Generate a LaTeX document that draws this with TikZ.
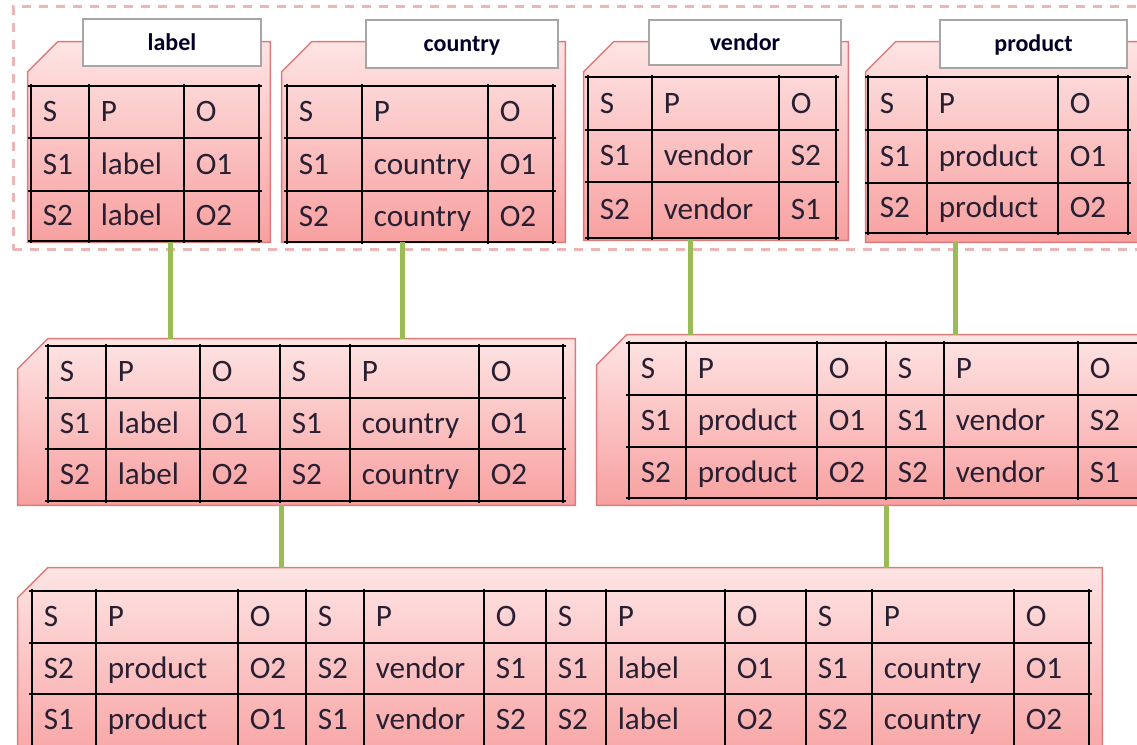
\documentclass[tikz,border=0pt]{standalone}
\usepackage{fontspec}
\setmainfont{Carlito}
\usetikzlibrary{fit}

\definecolor{boxTop}{RGB}{254,228,228}
\definecolor{boxBot}{RGB}{248,160,160}
\definecolor{boxLine}{RGB}{222,122,122}
\definecolor{frameLine}{RGB}{236,182,182}
\definecolor{tabLine}{RGB}{166,166,166}
\definecolor{linkGreen}{RGB}{155,187,89}
\definecolor{cellInk}{RGB}{40,32,50}

% box with a cut top-left corner
\newcommand\chambox[3]{%
  \node[fit={#2 #3}, inner sep=0pt] (#1) {};
  \path[tbox] ([yshift=-18pt]#1.north west) -- ([xshift=18pt]#1.north west)
  -- (#1.north east) -- (#1.south east) -- (#1.south west) -- cycle;
}

% grid of cells: name, column lines, row lines, texts
\newcommand\triptable[4]{%
  \pgfmathtruncatemacro\nCol{dim({#2})-1}
  \pgfmathtruncatemacro\nRow{dim({#3})-1}
  \pgfmathsetmacro\xA{{#2}[0]}
  \pgfmathsetmacro\xB{{#2}[\nCol]}
  \pgfmathsetmacro\yA{{#3}[0]}
  \pgfmathsetmacro\yB{{#3}[\nRow]}
  \foreach \x in {#2}{
    \draw[gridrule] (\x, \yA - 2) -- (\x, \yB + 2);
  }
  \foreach \y in {#3}{
    \draw[gridrule] (\xA - 3, \y) -- (\xB + 3, \y);
  }
  \foreach \t [count = \k from 0] in {#4}{
    \pgfmathtruncatemacro\tRow{div(\k, \nCol)}
    \pgfmathtruncatemacro\tCol{mod(\k, \nCol)}
    \pgfmathtruncatemacro\tRowB{\tRow + 1}
    \pgfmathsetmacro\cx{{#2}[\tCol]}
    \pgfmathsetmacro\yU{{#3}[\tRow]}
    \pgfmathsetmacro\yL{{#3}[\tRowB]}
    \pgfmathsetmacro\cy{(\yU + \yL)/2}
    \node[cellText] (#1-\tRow-\tCol) at (\cx, \cy) {\t};
  }
}

\begin{document}
\begin{tikzpicture}[x = 0.6pt, y = -0.6pt,
  tbox/.style = {draw = boxLine, line width = 0.9pt,
    top color = boxTop, bottom color = boxBot},
  tabbox/.style = {draw = tabLine, fill = white, line width = 1.1pt,
    inner sep = 0pt},
  tabText/.style = {inner sep = 0pt, text height = 9.2pt, text depth = 0pt,
    font = \fontsize{14.4}{16}\selectfont\bfseries, text = black!85!blue},
  gridrule/.style = {black, line width = 1.2pt},
  cellText/.style = {anchor = west, inner sep = 0pt, xshift = 6.9pt,
    text height = 12pt, text depth = 0pt, text = cellInk,
    font = \fontsize{18.7}{21}\selectfont},
  link/.style = {draw = linkGreen, line width = 3pt},
  frame/.style = {draw = frameLine, line width = 1.8pt,
    dash pattern = on 5.4pt off 4.8pt}
  ]
  \useasboundingbox (0, 0) rectangle (1137, 745);
  \clip (0, 0) rectangle (1137, 745);

  \node[frame, fit = {(13, 7) (1150, 250)}, inner sep = 0pt] (group) {};

  % single-pattern tables
  \chambox{tLabel}{(28, 42)}{(270, 242)}
  \chambox{tCountry}{(282, 42)}{(565, 242)}
  \chambox{tVendor}{(584, 42)}{(848, 240)}
  \chambox{tProduct}{(866, 42)}{(1140, 242)}

  \node[tabbox, fit = {(83, 19) (261, 66)}] (hLabel) {};
  \node[tabbox, fit = {(366, 20) (558, 68)}] (hCountry) {};
  \node[tabbox, fit = {(649, 20) (841, 65)}] (hVendor) {};
  \node[tabbox, fit = {(940, 20) (1127, 68)}] (hProduct) {};
  \node[tabText] (nLabel) at (hLabel) {label};
  \node[tabText] (nCountry) at (hCountry) {country};
  \node[tabText] (nVendor) at (hVendor) {vendor};
  \node[tabText] (nProduct) at (hProduct) {product};

  \triptable{gLabel}{31,89,184,259}{86,138,191,241}
  {S, P, O, S1, label, O1, S2, label, O2}
  \triptable{gCountry}{287,362,488,553}{86,138,191,242}
  {S, P, O, S1, country, O1, S2, country, O2}
  \triptable{gVendor}{588,652,779,836}{77,130,182,238}
  {S, P, O, S1, vendor, S2, S2, vendor, S1}
  \triptable{gProduct}{868,927,1058,1128}{77,130,183,233}
  {S, P, O, S1, product, O1, S2, product, O2}

  % joins
  \chambox{mLeft}{(18, 339)}{(575, 505)}
  \chambox{mRight}{(597, 335)}{(1160, 505)}
  \triptable{gLeft}{48,106,200,280,350,479,563}{346,398,449,501}
  {S, P, O, S, P, O, S1, label, O1, S1, country, O1,
    S2, label, O2, S2, country, O2}
  \triptable{gRight}{629,686,817,886,944,1078,1170}{343,395,447,498}
  {S, P, O, S, P, O, S1, product, O1, S1, vendor, S2,
    S2, product, O2, S2, vendor, S1}

  \chambox{bAll}{(18, 568)}{(1102, 770)}
  \triptable{gAll}{32,96,238,306,364,484,546,606,725,806,872,1014,1089}
  {591,643,694,746}
  {S, P, O, S, P, O, S, P, O, S, P, O,
    S2, product, O2, S2, vendor, S1, S1, label, O1, S1, country, O1,
    S1, product, O1, S1, vendor, S2, S2, label, O2, S2, country, O2}

  \coordinate (xa) at (170, 0);
  \coordinate (xb) at (402, 0);
  \coordinate (xc) at (690, 0);
  \coordinate (xd) at (955, 0);
  \coordinate (xe) at (281, 0);
  \coordinate (xf) at (886, 0);
  \draw[link] (tLabel.south -| xa) -- (mLeft.north -| xa);
  \draw[link] (tCountry.south -| xb) -- (mLeft.north -| xb);
  \draw[link] (tVendor.south -| xc) -- (mRight.north -| xc);
  \draw[link] (tProduct.south -| xd) -- (mRight.north -| xd);
  \draw[link] (mLeft.south -| xe) -- (bAll.north -| xe);
  \draw[link] (mRight.south -| xf) -- (bAll.north -| xf);
\end{tikzpicture}
\end{document}
